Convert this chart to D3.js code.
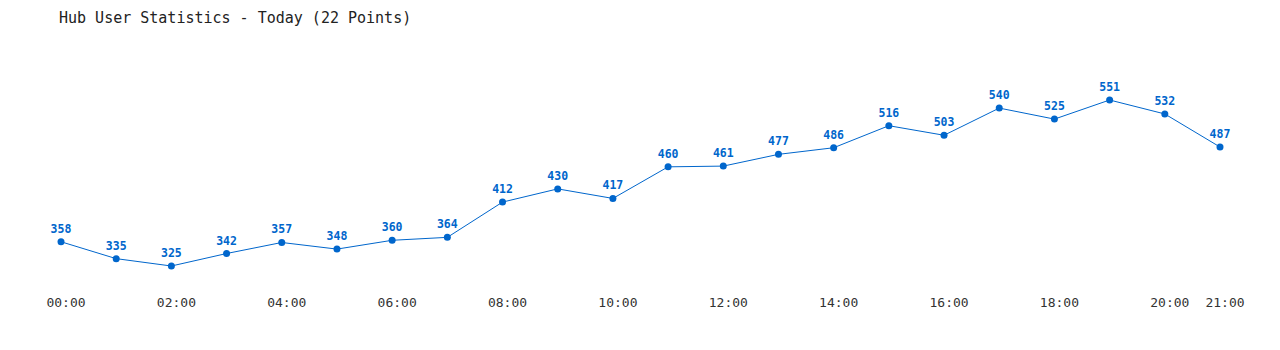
<!DOCTYPE html>
<html>
<head>
<meta charset="utf-8">
<script src="https://d3js.org/d3.v7.min.js"></script>
<style>
body { margin: 0; background: #fff; }
svg text { font-family: "DejaVu Sans Mono", "Liberation Mono", monospace; }
.title { font-size: 15px; fill: #222; }
.tick-label { font-size: 13px; fill: #333; }
.val { font-size: 11.5px; font-weight: bold; fill: #0066cc; }
</style>
</head>
<body>
<script>
// hourly user counts, 00:00 .. 21:00
var hours = ["00:00","01:00","02:00","03:00","04:00","05:00","06:00","07:00","08:00","09:00","10:00",
             "11:00","12:00","13:00","14:00","15:00","16:00","17:00","18:00","19:00","20:00","21:00"];
var users = [358, 335, 325, 342, 357, 348, 360, 364, 412, 430, 417,
             460, 461, 477, 486, 516, 503, 540, 525, 551, 532, 487];
var tickLabels = ["00:00","02:00","04:00","06:00","08:00","10:00","12:00","14:00","16:00","18:00","20:00","21:00"];

var width = 1280, height = 350;

var svg = d3.select("body").append("svg")
    .attr("width", width)
    .attr("height", height);

svg.append("text")
    .attr("class", "title")
    .attr("x", 59)
    .attr("y", 23)
    .text("Hub User Statistics - Today (22 Points)");

var x = d3.scalePoint().domain(hours).range([61, 1220]);
var y = d3.scaleLinear().domain([325, 551]).range([266, 100]);

var data = hours.map(function(h, i) { return {h: h, v: users[i]}; });

var line = d3.line()
    .x(function(d) { return x(d.h); })
    .y(function(d) { return y(d.v); });

svg.append("path")
    .datum(data)
    .attr("fill", "none")
    .attr("stroke", "#0066cc")
    .attr("stroke-width", 1)
    .attr("d", line);

svg.selectAll(".dot")
    .data(data)
    .enter().append("circle")
    .attr("class", "dot")
    .attr("cx", function(d) { return x(d.h); })
    .attr("cy", function(d) { return y(d.v); })
    .attr("r", 3.5)
    .attr("fill", "#0066cc");

svg.selectAll(".val")
    .data(data)
    .enter().append("text")
    .attr("class", "val")
    .attr("text-anchor", "middle")
    .attr("x", function(d) { return x(d.h); })
    .attr("y", function(d) { return y(d.v) - 9; })
    .text(function(d) { return d.v; });

// x axis: labels only, no line; labels sit a little right of the points
var axis = d3.axisBottom(x).tickValues(tickLabels).tickSize(0).tickPadding(0);
var gx = svg.append("g")
    .attr("transform", "translate(4.5,298)")
    .call(axis);
gx.select(".domain").remove();
gx.selectAll("text").attr("class", "tick-label").attr("font-family", null).attr("font-size", null).attr("fill", null);
</script>
</body>
</html>
